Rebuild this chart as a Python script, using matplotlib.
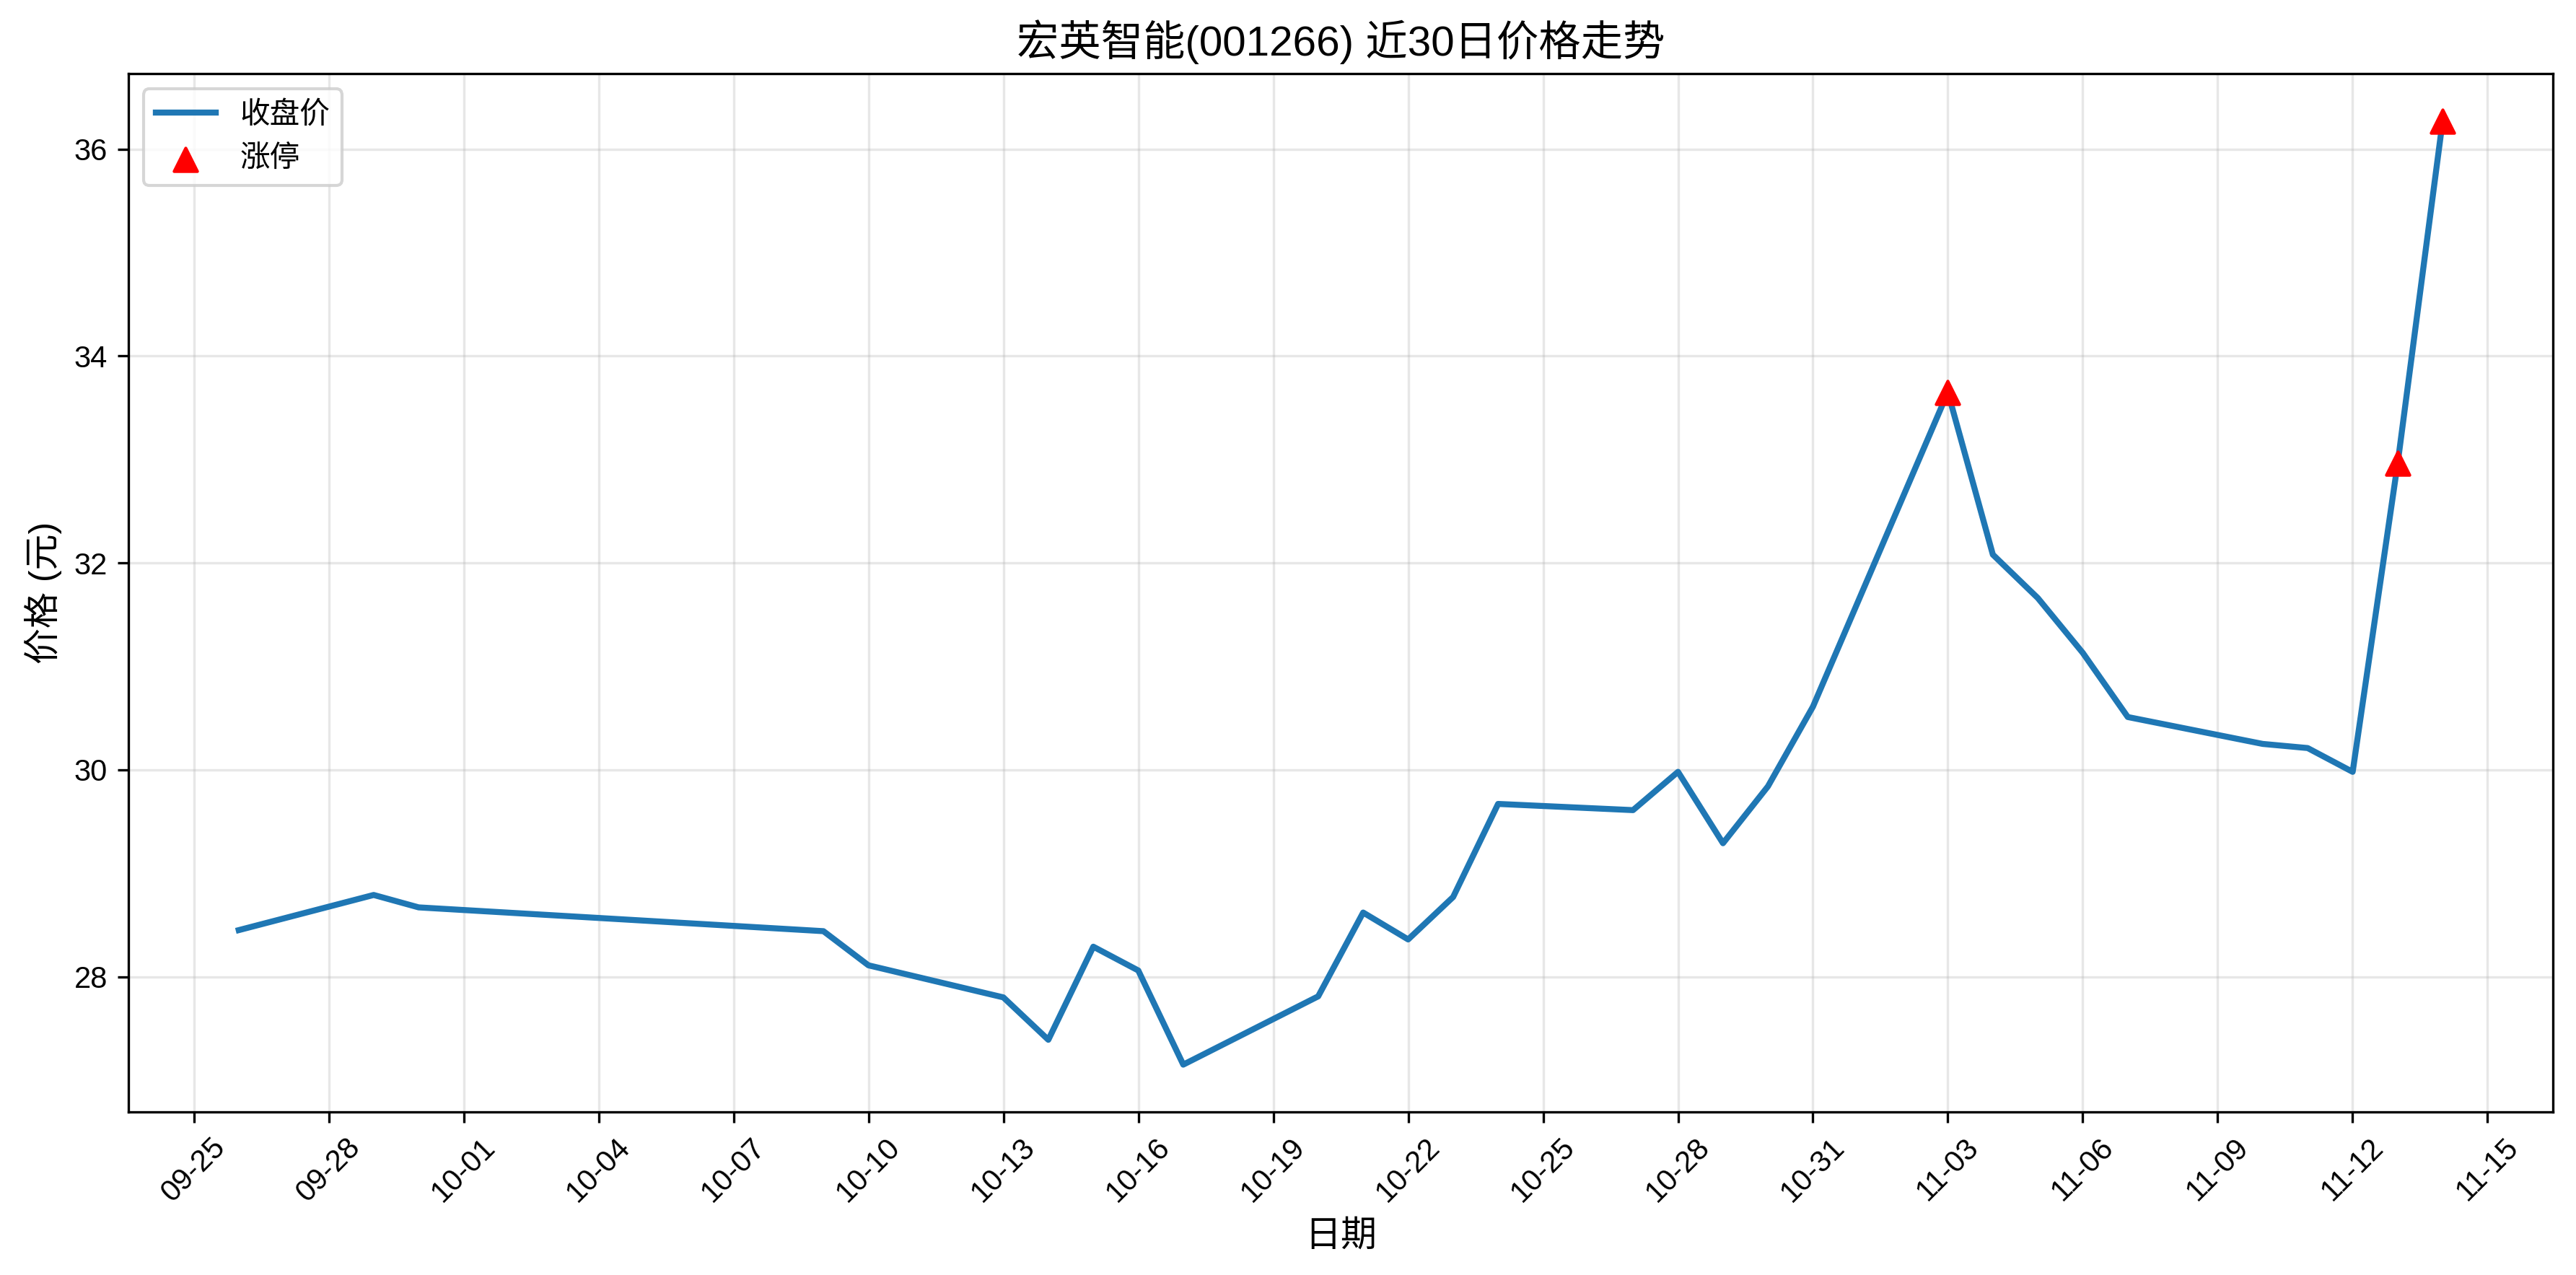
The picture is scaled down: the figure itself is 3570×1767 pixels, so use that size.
import matplotlib
matplotlib.use('Agg')
import matplotlib.pyplot as plt
import matplotlib.dates as mdates
import pandas as pd

plt.rcParams['font.family'] = ['Liberation Sans', 'Noto Sans CJK SC']
plt.rcParams['axes.unicode_minus'] = False

# 收盘价数据
dates = ['2025-09-26', '2025-09-29', '2025-09-30', '2025-10-09', '2025-10-10',
         '2025-10-13', '2025-10-14', '2025-10-15', '2025-10-16', '2025-10-17',
         '2025-10-20', '2025-10-21', '2025-10-22', '2025-10-23', '2025-10-24',
         '2025-10-27', '2025-10-28', '2025-10-29', '2025-10-30', '2025-10-31',
         '2025-11-03', '2025-11-04', '2025-11-05', '2025-11-06', '2025-11-07',
         '2025-11-10', '2025-11-11', '2025-11-12', '2025-11-13', '2025-11-14']
close = [28.45, 28.79, 28.67, 28.44, 28.11,
         27.80, 27.39, 28.29, 28.06, 27.15,
         27.81, 28.62, 28.36, 28.77, 29.67,
         29.61, 29.98, 29.29, 29.84, 30.61,
         33.65, 32.08, 31.66, 31.13, 30.51,
         30.25, 30.21, 29.98, 32.96, 36.27]

# 涨停日
limit_up_dates = ['2025-11-03', '2025-11-13', '2025-11-14']

dt = pd.to_datetime(dates)
price = pd.Series(close, index=dt)
lu = pd.to_datetime(limit_up_dates)

fig = plt.figure(figsize=(11.9, 5.89), dpi=300)
ax = fig.add_axes([0.0499, 0.128, 0.9411, 0.814])

ax.plot(price.index, price.values, color='#1f77b4', linewidth=2, label='收盘价')
ax.scatter(lu, price.loc[lu].values, color='red', marker='^', s=60, zorder=5, label='涨停')

ax.set_title('宏英智能(001266) 近30日价格走势', fontsize=14)
ax.set_xlabel('日期', fontsize=12)
ax.set_ylabel('价格 (元)', fontsize=12)

ticks = pd.date_range('2025-09-25', '2025-11-15', freq='3D')
ax.set_xticks(ticks)
ax.xaxis.set_major_formatter(mdates.DateFormatter('%m-%d'))
plt.setp(ax.get_xticklabels(), rotation=45)

ax.grid(True, alpha=0.3)
ax.legend(loc='upper left')

fig.savefig('out.png', dpi=300)
